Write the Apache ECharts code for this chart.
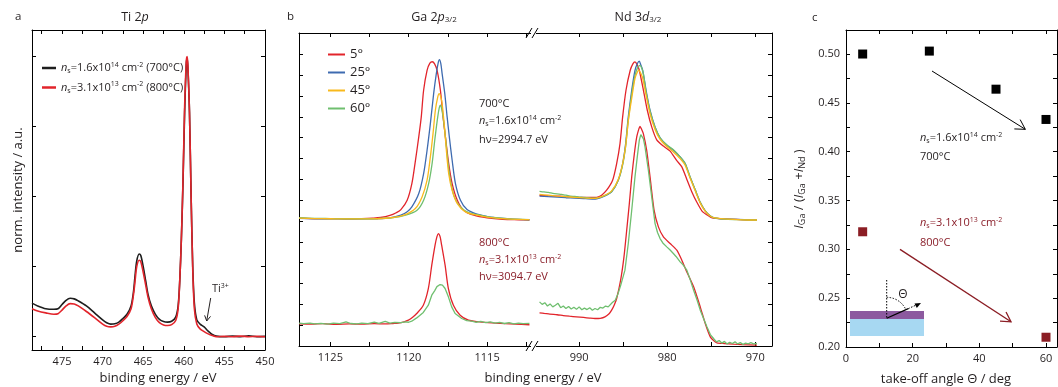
<!DOCTYPE html>
<html><head><meta charset="utf-8">
<script src="https://cdn.jsdelivr.net/npm/echarts@6/dist/echarts.min.js"></script>
<style>html,body{margin:0;padding:0;background:#fff}#c{width:1058px;height:387px}</style>
</head><body><div id="c"></div><script>
const FONT = 'Open Sans';
const INK = '#231f20';
const C_BLACK = '#1e1e1e', C_RED = '#e2242b', C_BLUE = '#3e6bb0', C_YELLOW = '#f8b91c', C_GREEN = '#6fbf6f', C_DARKRED = '#8a1f2a';

// ---------- tick labels ----------
const tiTicks = [450,452.5,455,457.5,460,462.5,465,467.5,470,472.5,475,477.5];
const tiLabels = [450,455,460,465,470,475];
const gaTicks = [1112.5,1115,1117.5,1120,1122.5,1125];
const gaLabels = [1115,1120,1125];
const ndTicks = [970,975,980,985,990];
const ndLabels = [970,980,990];
const angleTicks = [0,10,20,30,40,50,60];
const angleLabels = [0,20,40,60];
const ratioTicks = [0.2,0.225,0.25,0.275,0.3,0.325,0.35,0.375,0.4,0.425,0.45,0.475,0.5];
const ratioLabels = [0.2,0.25,0.3,0.35,0.4,0.45,0.5];
const intTicksA = [0,0.25,0.5,0.75,1];
const intTicksB = [0,1,2,3,4,5,6,7,8,9,10,11,12,13];

// ---------- panel a: Ti 2p ----------
const ti700 = [[478.7,0.12],[478,0.11],[477,0.10],[476,0.098],[475.5,0.10],[475,0.115],[474.5,0.13],[474,0.137],[473.5,0.135],[473,0.128],[472,0.11],[471,0.085],[470,0.06],[469.5,0.05],[469,0.045],[468.5,0.046],[468,0.052],[467.5,0.065],[467,0.08],[466.5,0.11],[466.2,0.16],[466,0.22],[465.8,0.27],[465.5,0.295],[465.3,0.29],[465,0.25],[464.7,0.2],[464.4,0.15],[464,0.11],[463.5,0.08],[463,0.062],[462.5,0.054],[462,0.052],[461.5,0.055],[461,0.07],[460.7,0.11],[460.5,0.2],[460.3,0.35],[460.1,0.55],[459.9,0.8],[459.7,0.97],[459.6,0.995],[459.5,0.96],[459.3,0.8],[459.1,0.5],[458.9,0.25],[458.7,0.12],[458.4,0.06],[458,0.045],[457.5,0.035],[457,0.02],[456.5,0.008],[456,0.002],[455,0.0],[454,0.002],[453,0.0],[452,0.003],[451,0.0],[450,0.001]];
const ti800 = [[478.7,0.10],[478,0.092],[477,0.085],[476,0.08],[475.5,0.082],[475,0.095],[474.5,0.11],[474,0.118],[473.5,0.117],[473,0.11],[472,0.09],[471,0.068],[470,0.045],[469.5,0.037],[469,0.035],[468.5,0.037],[468,0.045],[467.5,0.057],[467,0.072],[466.5,0.1],[466.2,0.15],[466,0.2],[465.8,0.25],[465.5,0.273],[465.3,0.268],[465,0.23],[464.7,0.185],[464.4,0.14],[464,0.1],[463.5,0.068],[463,0.05],[462.5,0.042],[462,0.04],[461.5,0.043],[461,0.058],[460.7,0.1],[460.5,0.2],[460.3,0.35],[460.1,0.56],[459.9,0.82],[459.7,0.98],[459.6,1.0],[459.5,0.97],[459.3,0.8],[459.1,0.5],[458.9,0.24],[458.7,0.1],[458.4,0.045],[458,0.028],[457.5,0.018],[457,0.01],[456.5,0.004],[456,0.0],[455,0.001],[454,0.0],[453,0.002],[452,0.0],[451,0.001],[450,0.0]];

// ---------- panel b: Ga 2p3/2 (relative to each baseline) ----------
const OFFSET_700 = 5;
const gaRed700 = [[1127,0.14],[1126,0.12],[1125,0.12],[1124,0.11],[1123,0.12],[1122.3,0.14],[1121.8,0.17],[1121.2,0.27],[1120.8,0.40],[1120.5,0.55],[1120.1,1.0],[1119.8,1.8],[1119.6,2.76],[1119.36,4.04],[1119.2,5.0],[1119.05,6.28],[1118.83,7.24],[1118.65,7.58],[1118.5,7.65],[1118.35,7.55],[1118.19,7.24],[1117.98,6.28],[1117.81,5.0],[1117.66,4.04],[1117.45,2.76],[1117.23,1.8],[1116.9,1.0],[1116.5,0.52],[1115.85,0.28],[1115,0.15],[1114,0.08],[1113,0.06],[1112.3,0.05]];
const gaBlue700 = [[1127,0.13],[1126,0.11],[1125,0.1],[1124,0.1],[1123,0.1],[1122,0.11],[1121.2,0.15],[1120.5,0.28],[1120.1,0.45],[1119.8,0.68],[1119.36,1.32],[1119.05,2.28],[1118.83,3.4],[1118.62,4.68],[1118.41,6.12],[1118.24,7.08],[1118.12,7.6],[1118.04,7.75],[1117.95,7.55],[1117.87,7.08],[1117.7,6.12],[1117.55,5.0],[1117.41,4.04],[1117.23,2.92],[1117.02,1.8],[1116.7,1.0],[1116.28,0.55],[1115.64,0.33],[1114.9,0.2],[1114.2,0.14],[1113,0.08],[1112.3,0.06]];
const gaYellow700 = [[1127,0.14],[1126,0.12],[1125,0.11],[1124,0.1],[1123,0.1],[1122,0.11],[1121,0.17],[1120.3,0.28],[1119.58,0.6],[1119.15,1.16],[1118.83,1.96],[1118.62,3.08],[1118.45,4.2],[1118.3,5.32],[1118.15,5.95],[1118.06,6.12],[1117.95,5.95],[1117.87,5.64],[1117.72,4.52],[1117.6,3.4],[1117.45,2.28],[1117.23,1.48],[1116.9,0.84],[1116.38,0.44],[1115.64,0.28],[1114.9,0.18],[1114,0.12],[1113,0.08],[1112.3,0.07]];
const gaGreen700 = [[1127,0.16],[1126,0.13],[1125,0.12],[1124,0.11],[1123,0.11],[1122,0.12],[1121,0.16],[1120.2,0.28],[1119.47,0.52],[1119.05,1.0],[1118.73,1.8],[1118.51,2.76],[1118.34,3.88],[1118.15,5.0],[1118.05,5.45],[1117.98,5.56],[1117.9,5.4],[1117.81,5.0],[1117.66,4.04],[1117.51,2.92],[1117.34,1.96],[1117.09,1.16],[1116.7,0.68],[1116.17,0.4],[1115.43,0.28],[1114.6,0.17],[1113.6,0.1],[1112.3,0.07]];
const gaRed800 = [[1127,0.06],[1126.2,0.05],[1125.5,0.07],[1124.6,0.04],[1123.8,0.06],[1123,0.05],[1122.2,0.07],[1121.5,0.06],[1121,0.08],[1120.66,0.1],[1120.3,0.16],[1120.02,0.24],[1119.75,0.38],[1119.49,0.56],[1119.07,0.96],[1118.75,1.76],[1118.53,2.88],[1118.32,3.84],[1118.2,4.25],[1118.11,4.4],[1118.0,4.25],[1117.9,3.84],[1117.68,2.88],[1117.47,1.76],[1117.15,0.96],[1116.72,0.48],[1116.19,0.24],[1115.6,0.17],[1115.13,0.13],[1114.5,0.1],[1113.85,0.07],[1113.2,0.05],[1112.3,0.02]];
const gaGreen800 = [[1127,0.1],[1126.7,0.07],[1126.3,0.1],[1126,0.06],[1125.6,0.09],[1125.2,0.05],[1124.8,0.1],[1124.4,0.07],[1124,0.16],[1123.7,0.08],[1123.3,0.06],[1123,0.1],[1122.6,0.07],[1122.2,0.15],[1121.9,0.09],[1121.5,0.18],[1121.2,0.1],[1120.9,0.13],[1120.5,0.12],[1120.23,0.16],[1120,0.14],[1119.81,0.19],[1119.49,0.35],[1119.07,0.61],[1118.75,0.96],[1118.53,1.44],[1118.35,1.65],[1118.2,1.85],[1118.0,1.95],[1117.85,1.92],[1117.68,1.76],[1117.47,1.36],[1117.26,0.88],[1117.04,0.56],[1116.62,0.32],[1116.3,0.22],[1115.98,0.19],[1115.7,0.14],[1115.4,0.18],[1115.1,0.12],[1114.8,0.16],[1114.5,0.1],[1114.2,0.13],[1113.9,0.08],[1113.6,0.12],[1113.3,0.06],[1113,0.1],[1112.7,0.07],[1112.3,0.09]];

// ---------- panel b: Nd 3d3/2 ----------
const ndRed700 = [[994.5,1.23],[993.5,1.21],[992.2,1.19],[991,1.16],[990,1.14],[988.78,1.13],[988,1.14],[987.45,1.24],[986.88,1.48],[986.2,1.96],[985.74,2.76],[985.36,3.72],[985.06,5.0],[984.68,6.28],[984.2,7.24],[983.9,7.55],[983.66,7.64],[983.4,7.5],[983.17,7.24],[982.7,6.28],[982.26,5.32],[981.76,4.52],[981.19,3.9],[980.43,3.6],[979.67,3.36],[978.91,2.9],[978.34,2.6],[977.77,2.0],[977.2,1.4],[976.63,0.9],[976.0,0.45],[975.5,0.3],[974.9,0.15],[973.5,0.1],[971.7,0.07],[970.5,0.05],[969.8,0.04]];
const ndBlue700 = [[994.5,1.2],[993.5,1.17],[992.5,1.15],[991.5,1.12],[990.5,1.1],[989.5,1.08],[988.5,1.06],[988,1.07],[987.07,1.21],[986.31,1.40],[985.56,1.96],[985.06,2.76],[984.72,3.72],[984.42,5.0],[984.03,6.28],[983.66,7.24],[983.4,7.55],[983.17,7.68],[983.0,7.5],[982.78,7.24],[982.4,6.28],[981.95,5.32],[981.38,4.52],[980.81,4.0],[980.05,3.64],[979.3,3.4],[978.53,3.08],[977.96,2.76],[977.39,2.1],[976.82,1.5],[976.25,0.9],[975.7,0.5],[975.2,0.28],[974.74,0.17],[973.5,0.1],[972,0.08],[970.5,0.06],[969.8,0.05]];
const ndYellow700 = [[994.5,1.28],[993.5,1.24],[992.5,1.2],[991.5,1.17],[990.5,1.14],[989.5,1.11],[988.5,1.09],[988,1.1],[987.07,1.24],[986.31,1.45],[985.56,2.0],[985.06,2.76],[984.72,3.6],[984.42,4.8],[984.03,5.9],[983.66,6.85],[983.4,7.15],[983.24,7.24],[983.0,7.1],[982.78,6.85],[982.4,6.05],[981.95,5.15],[981.38,4.4],[980.81,3.92],[980.05,3.58],[979.3,3.32],[978.53,3.0],[977.96,2.68],[977.39,2.05],[976.82,1.45],[976.25,0.86],[975.7,0.48],[975.2,0.27],[974.74,0.16],[973.5,0.1],[972,0.07],[970.5,0.05],[969.8,0.05]];
const ndGreen700 = [[994.5,1.43],[994,1.4],[993.5,1.38],[993,1.33],[992.5,1.3],[992,1.28],[991.5,1.24],[991,1.2],[990.5,1.18],[990,1.15],[989.5,1.14],[989,1.12],[988.5,1.1],[988,1.1],[987.07,1.23],[986.31,1.42],[985.56,1.96],[985.06,2.7],[984.72,3.6],[984.42,4.85],[984.03,6.1],[983.66,7.0],[983.35,7.38],[983.09,7.48],[982.9,7.35],[982.7,7.05],[982.4,6.2],[981.95,5.28],[981.38,4.5],[980.81,4.0],[980.05,3.66],[979.3,3.42],[978.53,3.08],[977.96,2.76],[977.39,2.1],[976.82,1.5],[976.25,0.9],[975.7,0.5],[975.2,0.28],[974.74,0.17],[973.5,0.09],[972,0.07],[970.5,0.05],[969.8,0.05]];
const ndRed800 = [[994.5,0.59],[994,0.57],[993.34,0.53],[992.5,0.5],[991.8,0.46],[991.1,0.43],[990.3,0.4],[989.5,0.37],[988.8,0.34],[988.21,0.32],[987.6,0.33],[987.07,0.4],[986.6,0.55],[986.31,0.72],[986.0,0.98],[985.74,1.28],[985.29,2.16],[984.91,3.28],[984.6,4.56],[984.3,5.84],[984.03,7.12],[983.73,8.24],[983.46,9.04],[983.2,9.45],[983.09,9.55],[982.9,9.4],[982.71,9.2],[982.33,8.4],[981.95,7.12],[981.49,5.52],[981.0,4.72],[980.43,4.24],[979.67,3.92],[978.91,3.6],[978.34,3.12],[977.77,2.55],[977.0,1.84],[976.25,0.88],[975.68,0.08],[975.11,-0.56],[974.7,-0.75],[974.35,-0.85],[973.5,-0.88],[972.46,-0.91],[971.5,-0.93],[969.8,-0.96]];
const ndGreen800 = [[994.5,1.12],[994.2,1.0],[993.9,1.08],[993.6,0.92],[993.3,1.02],[993,0.88],[992.7,0.96],[992.4,1.05],[992.1,0.84],[991.8,0.92],[991.5,0.8],[991.2,0.9],[990.9,0.78],[990.6,0.86],[990.3,0.76],[990,0.88],[989.7,0.74],[989.4,0.82],[989.1,0.75],[988.8,0.84],[988.5,0.72],[988.2,0.8],[987.9,0.74],[987.6,0.86],[987.3,0.82],[987,0.92],[986.7,0.88],[986.5,0.96],[986.2,1.1],[985.9,1.2],[985.6,1.5],[985.29,1.9],[984.8,2.64],[984.42,3.92],[984.03,5.52],[983.66,7.12],[983.4,8.08],[983.17,8.88],[983.0,9.15],[982.9,9.23],[982.7,8.95],[982.52,8.56],[982.14,7.44],[981.76,6.16],[981.38,4.88],[981.1,4.45],[980.81,4.16],[980.5,3.95],[980.05,3.76],[979.7,3.62],[979.3,3.44],[979.0,3.3],[978.53,3.04],[978.2,2.9],[977.77,2.64],[977.4,2.2],[977.0,1.68],[976.6,1.2],[976.25,0.72],[975.85,0.3],[975.49,-0.08],[975.1,-0.45],[974.74,-0.64],[974.4,-0.8],[974.1,-0.74],[973.8,-0.86],[973.5,-0.78],[973.2,-0.9],[972.9,-0.82],[972.6,-0.88],[972.3,-0.8],[972,-0.9],[971.7,-0.84],[971.4,-0.92],[971.1,-0.86],[970.8,-0.9],[970.5,-0.84],[970.2,-0.9],[969.8,-0.88]];

// ---------- panel c ----------
const angles700 = [5,25,45,60];
const ratio700 = [0.500,0.503,0.464,0.433];
const angles800 = [5,60];
const ratio800 = [0.318,0.210];

// ---------- helpers ----------
function rich(size, color) {
  const s = Math.round(size * 0.66);
  return {
    i: {fontStyle:'italic', fontSize:size, fontFamily:FONT, fill:color, color:color},
    sub: {fontSize:s, fontFamily:FONT, fill:color, color:color, padding:[Math.round(size*0.5),0,0,0]},
    sup: {fontSize:s, fontFamily:FONT, fill:color, color:color, padding:[0,0,Math.round(size*0.6),0]}
  };
}
function txt(x, y, text, o) {
  o = o || {};
  const size = o.size || 11, color = o.color || INK;
  return {type:'text', silent:true, z:20, x:x, y:y, rotation:o.rot || 0,
    style:{x:0, y:0, text:text, fontSize:size, fontFamily:FONT, fill:color,
      align:o.align || 'left', verticalAlign:'middle', rich:rich(size, color)}};
}
function line(x1,y1,x2,y2,color,w,dash) {
  return {type:'line', silent:true, z:20, shape:{x1,y1,x2,y2},
    style:{stroke:color, lineWidth:w||1, lineDash:dash||null}};
}
function arrow(x1,y1,x2,y2,color,len,w) {
  const a = Math.atan2(y2-y1, x2-x1), sp = Math.PI/6;
  const p1 = [x2 - len*Math.cos(a-sp), y2 - len*Math.sin(a-sp)];
  const p2 = [x2 - len*Math.cos(a+sp), y2 - len*Math.sin(a+sp)];
  return [line(x1,y1,x2,y2,color,w),
    {type:'polyline', silent:true, z:20, shape:{points:[p1,[x2,y2],p2]}, style:{stroke:color, lineWidth:w||1, fill:null}}];
}
const TICK_FONT = 11;
function xAx(grid, pos, min, max, ticks, labels, inverse, fmt) {
  return {type:'value', gridIndex:grid, position:pos, min:min, max:max, inverse:!!inverse,
    axisLine:{show:true, onZero:false, lineStyle:{color:'#000', width:1}},
    axisTick:{show:true, inside:true, length:4, customValues:ticks, lineStyle:{color:'#000', width:1}},
    axisLabel:{show:!!labels, customValues:labels || [], fontSize:TICK_FONT, fontFamily:FONT, color:INK, margin:6,
      formatter: fmt || (v => String(v))},
    splitLine:{show:false}, minorTick:{show:false}};
}
function yAx(grid, pos, min, max, ticks, labels, fmt) {
  return {type:'value', gridIndex:grid, position:pos, min:min, max:max,
    axisLine:{show:true, onZero:false, lineStyle:{color:'#000', width:1}},
    axisTick:{show:true, inside:true, length:4, customValues:ticks, lineStyle:{color:'#000', width:1}},
    axisLabel:{show:!!labels, customValues:labels || [], fontSize:TICK_FONT, fontFamily:FONT, color:INK, margin:6,
      formatter: fmt || (v => String(v))},
    splitLine:{show:false}, minorTick:{show:false}};
}
function ln(name, data, xi, yi, color, w, smooth, offset) {
  return {type:'line', name:name, xAxisIndex:xi, yAxisIndex:yi, color:color,
    data: offset ? data.map(p => [p[0], p[1] + offset]) : data,
    showSymbol:false, symbol:'none', smooth:smooth || false, silent:true,
    lineStyle:{color:color, width:w}, itemStyle:{color:color}, z:3};
}

const chart = echarts.init(document.getElementById('c'), null, {renderer:'canvas'});
const option = {
  animation:false,
  backgroundColor:'#fff',
  grid:[
    {left:32, top:30, width:233, height:320, outerBoundsMode:'none'},
    {left:299, top:33, width:232, height:313, outerBoundsMode:'none'},
    {left:536, top:33, width:236, height:313, outerBoundsMode:'none'},
    {left:846, top:30, width:211, height:317, outerBoundsMode:'none'}
  ],
  xAxis:[
    xAx(0,'bottom',450,478.7,tiTicks,tiLabels,true),
    xAx(0,'top',450,478.7,tiTicks,null,true),
    xAx(1,'bottom',1112.2,1127,gaTicks,gaLabels,true),
    xAx(1,'top',1112.2,1127,gaTicks,null,true),
    xAx(2,'bottom',968.1,994.9,ndTicks,ndLabels,true),
    xAx(2,'top',968.1,994.9,ndTicks,null,true),
    xAx(3,'bottom',0,63.3,angleTicks,angleLabels,false),
    xAx(3,'top',0,63.3,angleTicks,null,false)
  ],
  yAxis:[
    yAx(0,'left',-0.0475,1.095,intTicksA,null),
    yAx(0,'right',-0.0475,1.095,intTicksA,null),
    yAx(1,'left',-1,14.03,intTicksB,null),
    yAx(2,'right',-1,14.03,intTicksB,null),
    yAx(3,'left',0.2,0.5246,ratioTicks,ratioLabels,v => v.toFixed(2)),
    yAx(3,'right',0.2,0.5246,ratioTicks,null)
  ],
  legend:[
    {data:['ti700','ti800'], orient:'vertical', left:37, top:56, itemWidth:14, itemHeight:2.5, icon:'rect', itemGap:6,
      selectedMode:false,
      textStyle:{fontSize:11, fontFamily:FONT, color:INK, rich:rich(11, INK)},
      formatter: n => n === 'ti700' ? '{i|n}{sub|s}=1.6x10{sup|14} cm{sup|-2} (700°C)' : '{i|n}{sub|s}=3.1x10{sup|13} cm{sup|-2} (800°C)'},
    {data:['5°','25°','45°','60°'], orient:'vertical', left:323, top:42, itemWidth:17, itemHeight:2, icon:'rect', itemGap:3,
      selectedMode:false, textStyle:{fontSize:13, fontFamily:FONT, color:INK, lineHeight:15}}
  ],
  series:[
    ln('ti700', ti700, 0, 0, C_BLACK, 1.6, 0.3),
    ln('ti800', ti800, 0, 0, C_RED, 1.6, 0.3),
    ln('5°', gaRed700, 2, 2, C_RED, 1.3, 0.3, OFFSET_700),
    ln('25°', gaBlue700, 2, 2, C_BLUE, 1.3, 0.3, OFFSET_700),
    ln('60°', gaGreen700, 2, 2, C_GREEN, 1.3, 0.3, OFFSET_700),
    ln('45°', gaYellow700, 2, 2, C_YELLOW, 1.3, 0.3, OFFSET_700),
    ln('5°', gaRed800, 2, 2, C_RED, 1.3, 0.3),
    ln('60°', gaGreen800, 2, 2, C_GREEN, 1.3, false),
    ln('5°', ndRed700, 4, 3, C_RED, 1.3, 0.2, OFFSET_700),
    ln('25°', ndBlue700, 4, 3, C_BLUE, 1.3, 0.2, OFFSET_700),
    ln('60°', ndGreen700, 4, 3, C_GREEN, 1.3, 0.2, OFFSET_700),
    ln('45°', ndYellow700, 4, 3, C_YELLOW, 1.3, 0.2, OFFSET_700),
    ln('5°', ndRed800, 4, 3, C_RED, 1.3, 0.2),
    ln('60°', ndGreen800, 4, 3, C_GREEN, 1.3, false),
    {type:'scatter', name:'700', xAxisIndex:6, yAxisIndex:4, symbol:'rect', symbolSize:9, silent:true,
      itemStyle:{color:'#000', opacity:1}, data: angles700.map((a,i) => [a, ratio700[i]]), z:5},
    {type:'scatter', name:'800', xAxisIndex:6, yAxisIndex:4, symbol:'rect', symbolSize:9, silent:true,
      itemStyle:{color:'#8b1d24', opacity:1}, data: angles800.map((a,i) => [a, ratio800[i]]), z:5}
  ]
};
chart.setOption(option);

// annotations (pixel positions from the data scale of panel c)
const P = (x, y) => chart.convertToPixel({xAxisIndex:6, yAxisIndex:4}, [x, y]);
const a7s = P(25.8, 0.4826), a7e = P(53.8, 0.4229);
const a8s = P(16.2, 0.300), a8e = P(49.5, 0.2258);

const g = [
  txt(15, 17, 'a', {size:11.5}),
  txt(287, 17, 'b', {size:11.5}),
  txt(812, 18, 'c', {size:11.5}),
  txt(135, 17, 'Ti 2{i|p}', {size:12.5, align:'center'}),
  txt(434, 17, 'Ga 2{i|p}{sub|3/2}', {size:12.5, align:'center'}),
  txt(638, 17, 'Nd 3{i|d}{sub|3/2}', {size:12.5, align:'center'}),
  txt(158, 378, 'binding energy / eV', {size:13, align:'center'}),
  txt(543, 378, 'binding energy / eV', {size:13, align:'center'}),
  txt(946, 379, 'take-off angle Θ / deg', {size:13, align:'center'}),
  txt(18, 190, 'norm. intensity / a.u.', {size:13, align:'center', rot:Math.PI/2}),
  txt(799, 189, '{i|I}{sub|Ga} / ({i|I}{sub|Ga} +{i|I}{sub|Nd} )', {size:13, align:'center', rot:Math.PI/2}),
  txt(212, 289, 'Ti{sup|3+}', {size:11}),
  ...arrow(210.7, 298, 206.7, 321, INK, 6, 1),
  // panel b annotations
  txt(479, 104, '700°C', {size:11}),
  txt(479, 121, '{i|n}{sub|s}=1.6x10{sup|14} cm{sup|-2}', {size:11}),
  txt(479, 140, 'hν=2994.7 eV', {size:11}),
  txt(479, 243, '800°C', {size:11, color:C_DARKRED}),
  txt(479, 260, '{i|n}{sub|s}=3.1x10{sup|13} cm{sup|-2}', {size:11, color:C_DARKRED}),
  txt(479, 277, 'hν=3094.7 eV', {size:11, color:C_DARKRED}),
  // axis break marks
  {type:'rect', silent:true, z:19, shape:{x:531, y:28, width:5, height:10}, style:{fill:'#fff'}},
  {type:'rect', silent:true, z:19, shape:{x:531, y:341, width:5, height:10}, style:{fill:'#fff'}},
  line(526, 38, 532, 28, '#000', 1),
  line(532, 38, 538, 28, '#000', 1),
  line(526, 351, 532, 341, '#000', 1),
  line(532, 351, 538, 341, '#000', 1),
  // panel c annotations
  ...arrow(a7s[0], a7s[1], a7e[0], a7e[1], '#000', 11, 1),
  ...arrow(a8s[0], a8s[1], a8e[0], a8e[1], '#8b1d24', 11, 1.3),
  txt(920, 138, '{i|n}{sub|s}=1.6x10{sup|14} cm{sup|-2}', {size:11}),
  txt(920, 157, '700°C', {size:11}),
  txt(920, 223, '{i|n}{sub|s}=3.1x10{sup|13} cm{sup|-2}', {size:11, color:C_DARKRED}),
  txt(920, 243, '800°C', {size:11, color:C_DARKRED}),
  // inset sketch
  {type:'rect', silent:true, z:18, shape:{x:850, y:319, width:74, height:17}, style:{fill:'#a7d8f2'}},
  {type:'rect', silent:true, z:18, shape:{x:850, y:311, width:74, height:8}, style:{fill:'#8c5a9f'}},
  line(886.7, 280, 886.7, 318, '#000', 1, [1.5,1.5]),
  line(886.7, 318.3, 908.3, 308.6, '#000', 1.2),
  line(908.3, 308.6, 917, 304.7, '#000', 1, [1.5,1.5]),
  {type:'polygon', silent:true, z:20, shape:{points:[[921,303],[914.5,303.6],[916.8,308]]}, style:{fill:'#000'}},
  {type:'arc', silent:true, z:20, shape:{cx:886.7, cy:318.3, r:21, startAngle:-Math.PI/2, endAngle:-0.42, clockwise:true},
    style:{stroke:'#000', lineWidth:1, fill:null, lineDash:[1.5,1.5]}},
  txt(903, 295, 'Θ', {size:12, align:'center'})
];
chart.setOption({graphic:{elements:g}});
</script></body></html>
